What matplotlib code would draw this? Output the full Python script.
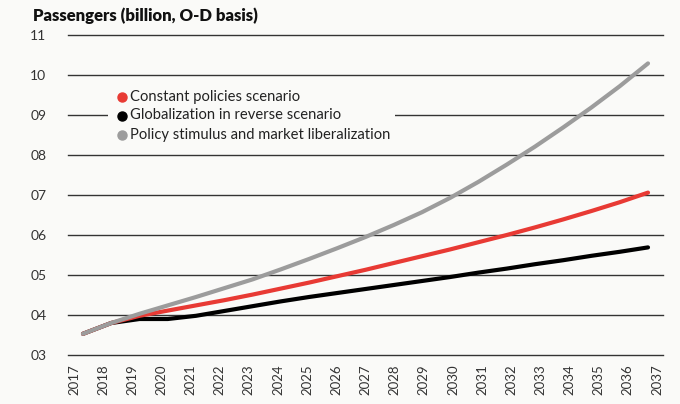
import matplotlib
matplotlib.use("Agg")
import matplotlib.pyplot as plt
from matplotlib.lines import Line2D
from matplotlib.patches import Rectangle

plt.rcParams['font.family'] = ['Lato', 'DejaVu Sans']

years = list(range(2017, 2038))
constant = [3.53, 3.80, 3.98, 4.11, 4.24, 4.37, 4.51, 4.66, 4.81, 4.97, 5.13,
            5.30, 5.47, 5.64, 5.82, 6.00, 6.19, 6.39, 6.60, 6.82, 7.06]
reverse = [3.53, 3.80, 3.90, 3.90, 3.98, 4.10, 4.22, 4.34, 4.45, 4.55, 4.65,
           4.75, 4.85, 4.95, 5.06, 5.16, 5.27, 5.37, 5.48, 5.58, 5.69]
stimulus = [3.53, 3.80, 4.03, 4.24, 4.45, 4.67, 4.89, 5.14, 5.40, 5.67, 5.95,
            6.25, 6.57, 6.93, 7.33, 7.76, 8.21, 8.69, 9.19, 9.72, 10.29]
series_names = ["Constant policies scenario", "Globalization in reverse scenario",
                "Policy stimulus and market liberalization"]
colors = ["#e83a34", "#000000", "#9c9c9c"]
ytick_vals = [3, 4, 5, 6, 7, 8, 9, 10, 11]
ytick_labels = ["03", "04", "05", "06", "07", "08", "09", "10", "11"]
xtick_labels = [str(y) for y in years]

W, H = 680, 404
bg = "#fafaf8"
fig = plt.figure(figsize=(W / 100, H / 100), dpi=100, facecolor=bg)
left, right = 68, 663
top, bottom = 35, 355
ax = fig.add_axes([left / W, 1 - bottom / H, (right - left) / W, (bottom - top) / H])
ax.set_facecolor(bg)

px0, scale = 83, 28.25
ax.set_xlim(2017 + (left - px0) / scale, 2017 + (right - px0) / scale)
ax.set_ylim(3, 11)

for v in ytick_vals:
    ax.axhline(v, color="#333333", lw=1.0, zorder=1, clip_on=False)

ax.plot(years, reverse, color=colors[1], lw=3.0, solid_capstyle="round", zorder=3)
ax.plot(years, constant, color=colors[0], lw=3.0, solid_capstyle="round", zorder=4)
ax.plot(years, stimulus, color=colors[2], lw=3.0, solid_capstyle="round", zorder=5)

for s in ax.spines.values():
    s.set_visible(False)

ax.set_yticks(ytick_vals)
ax.set_yticklabels(ytick_labels, fontsize=10, color="#333333")
ax.tick_params(axis="y", length=0)
for t in ax.get_yticklabels():
    t.set_horizontalalignment("left")
    t.set_x(-(left - 35) / (right - left))

tick_pos = [2017 + (74 + 29.15 * i - px0) / scale for i in range(len(years))]
ax.set_xticks(tick_pos)
ax.set_xticklabels(xtick_labels, rotation=90, fontsize=9.5, color="#333333")
ax.tick_params(axis="x", length=0, pad=7)

# legend drawn manually, with background blocking gridlines
fig.add_artist(Rectangle((108 / W, 1 - 145 / H), (395 - 108) / W, 60 / H,
                         transform=fig.transFigure, facecolor=bg, edgecolor="none",
                         zorder=8))
rows_px = [97, 116, 135]
for name, c, ypx in zip(series_names, colors, rows_px):
    fig.add_artist(Line2D([122 / W], [1 - ypx / H], marker="o", linestyle="none",
                          color=c, markersize=6.5, transform=fig.transFigure, zorder=9))
    fig.text(130 / W, 1 - (ypx - 0.5) / H, name, fontsize=10.6, va="center",
             ha="left", color="#222222", zorder=9)

fig.text(33 / W, 1 - 16 / H, "Passengers (billion, O-D basis)", fontsize=12,
         fontweight="heavy", va="center", ha="left", color="#111111")

fig.savefig("out.png", dpi=100, facecolor=bg)
